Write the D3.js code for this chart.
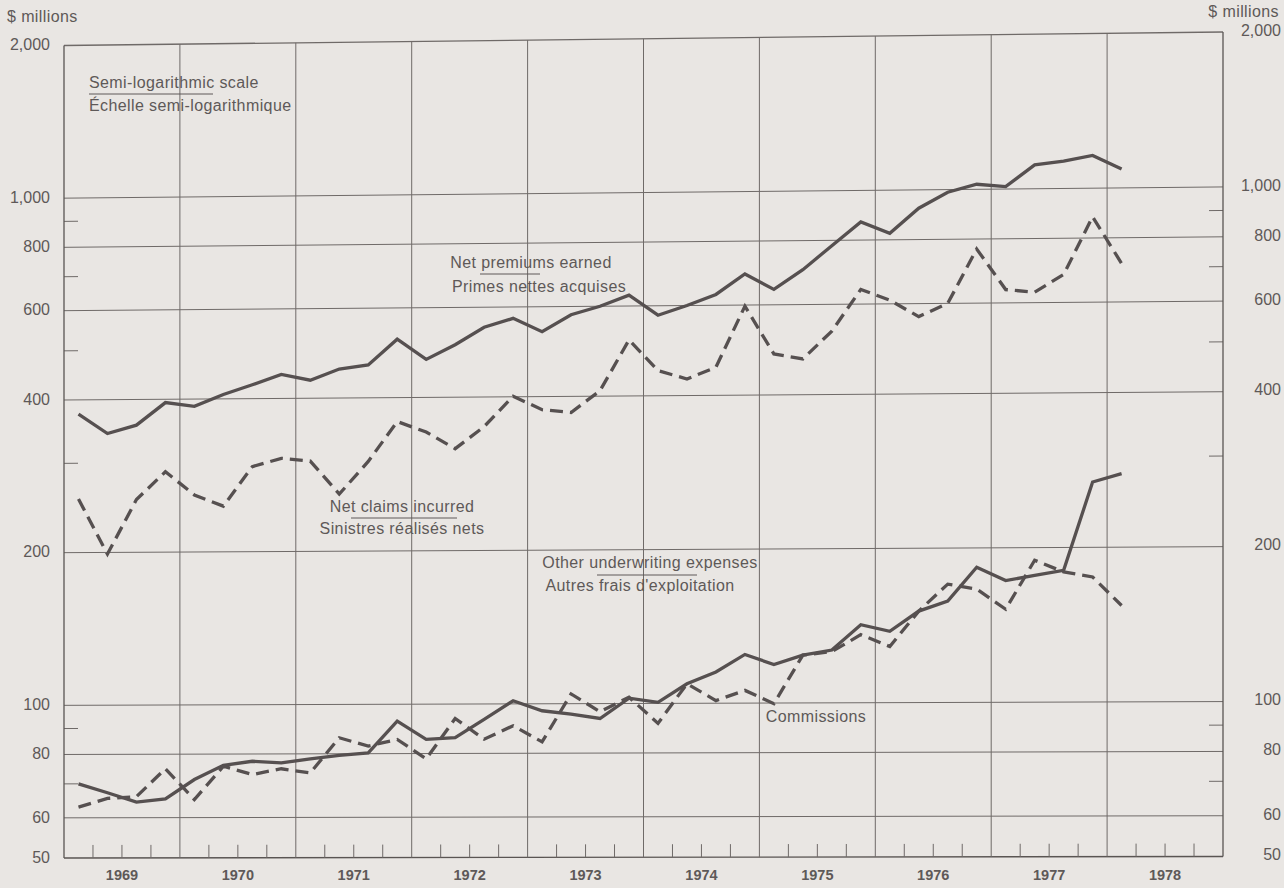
<!DOCTYPE html>
<html>
<head>
<meta charset="utf-8">
<script src="https://cdn.jsdelivr.net/npm/d3@7/dist/d3.min.js"></script>
<style>
  html, body { margin: 0; padding: 0; background: #e9e6e3; }
  svg { display: block; }
  text { font-family: "Liberation Sans", Arial, Helvetica, sans-serif; }
</style>
</head>
<body>
<svg id="chart" width="1284" height="888"></svg>
<script>
// ---------------- DATA ----------------
const quarters = [
  "1969Q1","1969Q2","1969Q3","1969Q4","1970Q1","1970Q2","1970Q3","1970Q4",
  "1971Q1","1971Q2","1971Q3","1971Q4","1972Q1","1972Q2","1972Q3","1972Q4",
  "1973Q1","1973Q2","1973Q3","1973Q4","1974Q1","1974Q2","1974Q3","1974Q4",
  "1975Q1","1975Q2","1975Q3","1975Q4","1976Q1","1976Q2","1976Q3","1976Q4",
  "1977Q1","1977Q2","1977Q3","1977Q4","1978Q1"
];
const netPremiums = [375, 343, 356, 394, 387, 408, 426, 446, 434, 456, 464, 521, 475, 507, 548, 570, 536, 578, 600, 630,
  575, 600, 630, 690, 643, 702, 781, 868, 824, 921, 988, 1023, 1011, 1113, 1130, 1158, 1088];
const netClaims = [255, 198.5, 254, 288, 259, 246, 294, 305, 301, 259, 300, 359, 342, 317, 350, 401, 377, 372, 410, 515,
  448, 431, 454, 597, 481, 470, 532, 641, 610, 566, 600, 765, 637, 629, 680, 880, 713];
const otherExpenses = [70, 67.2, 64.4, 65.3, 71.3, 76, 77.4, 76.8, 78.2, 79.4, 80.3, 92.7, 85.3, 85.9, 93.3, 101.4, 96.9, 95.4, 93.5, 102.4,
  100.5, 109.2, 115.1, 124.5, 118.9, 124, 126.8, 142, 137.8, 150.8, 157.7, 183.4, 172.6, 176.5, 180.5, 268, 278];
const commissions = [63, 65.5, 66, 74.9, 65.1, 75.7, 72.9, 74.8, 73.4, 86, 82.8, 85.3, 78.1, 93.7, 85.3, 90.6, 84.2, 104.5, 96.4, 102.9,
  91.4, 109.2, 101.2, 105.9, 99.7, 124, 125.9, 135.8, 128.7, 150.8, 170.1, 166.3, 151.8, 189, 179.2, 175.1, 154];

const years = [1969, 1970, 1971, 1972, 1973, 1974, 1975, 1976, 1977, 1978];
const gridValues = [2000, 1000, 800, 600, 400, 200, 100, 80, 60, 50];
const gridLabels = ["2,000", "1,000", "800", "600", "400", "200", "100", "80", "60", "50"];
const minorTicks = [900, 700, 500, 300, 90, 70];

// ---------------- LAYOUT ----------------
const svg = d3.select("#chart");
const X0 = 64, X1 = 1223;
const ink = "#565050";
const gridCol = "#6f6a68";
const textCol = "#5e5958";

function qTime(q) { const y = +q.slice(0, 4), n = +q.slice(5); return y + (n - 0.5) / 4; }

const x = d3.scaleLinear().domain([1969, 1979]).range([X0, X1]);
// the printed original is slightly skewed: left and right edges use slightly different vertical scales
const yL = d3.scaleLog().domain([50, 2000]).range([858, 45.5]);
const yR = d3.scaleLog().domain([50, 2000]).range([856.5, 32]);
function Y(v, px) {
  const f = (px - X0) / (X1 - X0);
  return yL(v) + f * (yR(v) - yL(v));
}

const g = svg.append("g");

g.selectAll("line.hgrid").data(gridValues).enter().append("line")
  .attr("x1", X0).attr("x2", X1)
  .attr("y1", d => yL(d)).attr("y2", d => yR(d))
  .attr("stroke", d => (d === 50 ? "#5a5553" : gridCol))
  .attr("stroke-width", d => (d === 50 || d === 2000) ? 1.3 : 1);

const tickLen = 14;
g.selectAll("line.mtl").data(minorTicks).enter().append("line")
  .attr("x1", X0).attr("x2", X0 + tickLen)
  .attr("y1", d => Y(d, X0)).attr("y2", d => Y(d, X0 + tickLen))
  .attr("stroke", gridCol).attr("stroke-width", 1);
g.selectAll("line.mtr").data(minorTicks).enter().append("line")
  .attr("x1", X1 - tickLen).attr("x2", X1)
  .attr("y1", d => Y(d, X1 - tickLen)).attr("y2", d => Y(d, X1))
  .attr("stroke", gridCol).attr("stroke-width", 1);

const yearBounds = d3.range(1969, 1980);
g.selectAll("line.vgrid").data(yearBounds).enter().append("line")
  .attr("x1", d => x(d)).attr("x2", d => x(d))
  .attr("y1", d => Y(50, x(d))).attr("y2", d => Y(2000, x(d)))
  .attr("stroke", d => (d === 1969 || d === 1979) ? "#5a5553" : gridCol)
  .attr("stroke-width", d => (d === 1969 || d === 1979) ? 1.3 : 1);

const qTicks = [];
years.forEach(yr => { [0.25, 0.5, 0.75].forEach(f => qTicks.push(yr + f)); });
g.selectAll("line.qt").data(qTicks).enter().append("line")
  .attr("x1", d => x(d)).attr("x2", d => x(d))
  .attr("y1", d => Y(50, x(d))).attr("y2", d => Y(50, x(d)) - 13)
  .attr("stroke", gridCol).attr("stroke-width", 1);

g.selectAll("text.year").data(years).enter().append("text")
  .attr("x", d => x(d + 0.5)).attr("y", 880)
  .attr("text-anchor", "middle")
  .attr("font-size", "14.5px").attr("font-weight", "bold")
  .attr("fill", textCol)
  .text(d => d);

g.selectAll("text.yl").data(gridValues).enter().append("text")
  .attr("x", 50).attr("y", d => yL(d) - 1)
  .attr("dy", "0.36em")
  .attr("text-anchor", "end").attr("font-size", "16px").attr("fill", textCol)
  .text((d, i) => gridLabels[i]);
g.selectAll("text.yr").data(gridValues).enter().append("text")
  .attr("x", 1281).attr("y", d => yR(d) - 2)
  .attr("dy", "0.36em")
  .attr("text-anchor", "end").attr("font-size", "16px").attr("fill", textCol)
  .text((d, i) => gridLabels[i]);

svg.append("text").attr("x", 7).attr("y", 22).attr("font-size", "16px")
  .attr("letter-spacing", "0.4px").attr("fill", textCol).text("$ millions");
svg.append("text").attr("x", 1279).attr("y", 17).attr("font-size", "16px")
  .attr("text-anchor", "end").attr("letter-spacing", "0.4px").attr("fill", textCol).text("$ millions");

// ---------------- SERIES ----------------
function seriesData(vals) { return quarters.map((q, i) => ({ t: qTime(q), v: vals[i] })); }
const line = d3.line()
  .x(d => x(d.t))
  .y(d => Y(d.v, x(d.t)));

const series = [
  { vals: netPremiums, dash: null },
  { vals: netClaims, dash: "13,7" },
  { vals: otherExpenses, dash: null },
  { vals: commissions, dash: "13,7" }
];
g.selectAll("path.series").data(series).enter().append("path")
  .attr("d", d => line(seriesData(d.vals)))
  .attr("fill", "none")
  .attr("stroke", ink)
  .attr("stroke-width", 3.3)
  .attr("stroke-linejoin", "miter")
  .attr("stroke-dasharray", d => d.dash);

// ---------------- ANNOTATIONS ----------------
function label(txt, xx, yy, anchor) {
  return svg.append("text").attr("x", xx).attr("y", yy)
    .attr("text-anchor", anchor || "middle")
    .attr("font-size", "16px").attr("letter-spacing", "0.4px")
    .attr("fill", textCol).text(txt);
}
function rule(xa, xb, yy) {
  svg.append("line").attr("x1", xa).attr("x2", xb).attr("y1", yy).attr("y2", yy)
    .attr("stroke", textCol).attr("stroke-width", 1);
}
label("Semi-logarithmic scale", 89, 88, "start");
rule(89, 213, 94);
label("Échelle semi-logarithmique", 89, 111, "start");

label("Net premiums earned", 531, 268);
rule(480, 540, 274);
label("Primes nettes acquises", 539, 292);

label("Net claims incurred", 402, 512);
rule(351, 457, 518);
label("Sinistres réalisés nets", 402, 534);

label("Other underwriting expenses", 650, 568);
rule(597, 697, 575);
label("Autres frais d'exploitation", 640, 591);

label("Commissions", 816, 722);
</script>
</body>
</html>
